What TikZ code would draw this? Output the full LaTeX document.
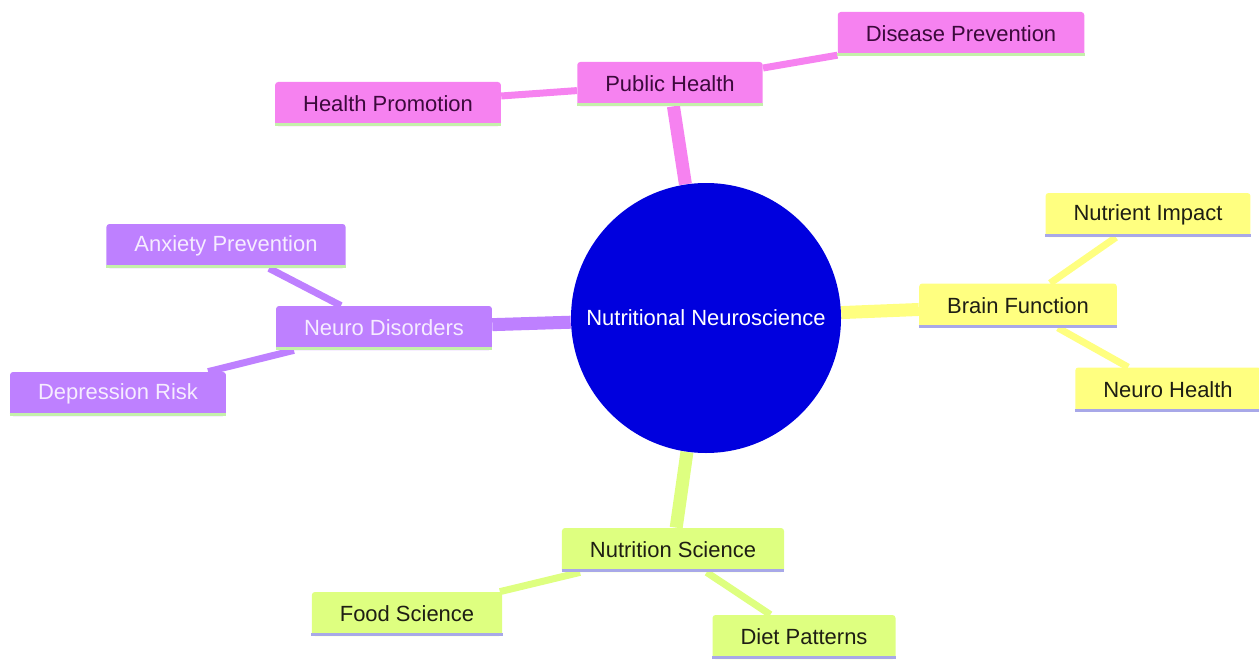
\documentclass[tikz,border=0pt]{standalone}
\usepackage{fontspec}
\setmainfont{Liberation Sans}
\usetikzlibrary{backgrounds}

\definecolor{rootblue}{RGB}{0,0,222}
\definecolor{pinkfill}{RGB}{246,130,240}
\definecolor{yellowfill}{RGB}{255,255,128}
\definecolor{purplefill}{RGB}{190,128,255}
\definecolor{greenfill}{RGB}{222,255,128}
\definecolor{pinktext}{RGB}{60,10,60}
\definecolor{purpletext}{RGB}{246,236,255}
\definecolor{darktext}{RGB}{30,30,20}
\definecolor{linegreen}{RGB}{196,240,170}
\definecolor{linelav}{RGB}{168,168,232}

\tikzset{
  topic/.style={rounded corners=1.7pt, inner xsep=0.56cm, inner ysep=0pt, minimum height=0.88cm, font=\fontsize{12.5}{15}\selectfont},
  pubbox/.style={topic, fill=pinkfill, text=pinktext},
  brainbox/.style={topic, fill=yellowfill, text=darktext},
  neurobox/.style={topic, fill=purplefill, text=purpletext},
  nutribox/.style={topic, fill=greenfill, text=darktext},
  stem/.style={line width=0.26cm},
  twig/.style={line width=0.14cm},
  uline/.style={line width=1.7pt}
}

\begin{document}
\begin{tikzpicture}
\useasboundingbox (0,0) rectangle (25.18,13.18);

% centre
\node [circle, fill=rootblue, minimum size=5.4cm, text=white, font=\fontsize{12.5}{15}\selectfont] (root) at (14.12,6.82) {Nutritional Neuroscience};

% public health branch
\node [pubbox] (pub) at (13.40,11.50) {Public Health};
\node [pubbox] (disprev) at (19.22,12.50) {Disease Prevention};
\node [pubbox] (healthprom) at (7.76,11.10) {Health Promotion};

% brain function branch
\node [brainbox] (brain) at (20.36,7.07) {Brain Function};
\node [brainbox] (nutimp) at (22.96,8.88) {Nutrient Impact};
\node [brainbox] (neurohealth) at (23.36,5.39) {Neuro Health};

% neuro disorders branch
\node [neurobox] (neurodis) at (7.68,6.62) {Neuro Disorders};
\node [neurobox] (anxprev) at (4.52,8.26) {Anxiety Prevention};
\node [neurobox] (deprisk) at (2.36,5.30) {Depression Risk};

% nutrition science branch
\node [nutribox] (nutsci) at (13.46,2.18) {Nutrition Science};
\node [nutribox] (foodsci) at (8.14,0.90) {Food Science};
\node [nutribox] (diet) at (16.08,0.44) {Diet Patterns};

% underlines
\foreach \n/\c in {pub/linegreen, disprev/linegreen, healthprom/linegreen,
                   brain/linelav, nutimp/linelav, neurohealth/linelav,
                   neurodis/linegreen, anxprev/linegreen, deprisk/linegreen,
                   nutsci/linelav, foodsci/linelav, diet/linelav}
  \draw [uline, \c] ([yshift=0.85pt]\n.south west) -- ([yshift=0.85pt]\n.south east);

\begin{scope}[on background layer]
\draw [stem, pinkfill] (root) -- (pub);
\draw [twig, pinkfill] (pub) -- (disprev);
\draw [twig, pinkfill] (pub) -- (healthprom);
\draw [stem, yellowfill] (root) -- (brain);
\draw [twig, yellowfill] (brain) -- (nutimp);
\draw [twig, yellowfill] (brain) -- (neurohealth);
\draw [stem, purplefill] (root) -- (neurodis);
\draw [twig, purplefill] (neurodis) -- (anxprev);
\draw [twig, purplefill] (neurodis) -- (deprisk);
\draw [stem, greenfill] (root) -- (nutsci);
\draw [twig, greenfill] (nutsci) -- (foodsci);
\draw [twig, greenfill] (nutsci) -- (diet);
\end{scope}
\end{tikzpicture}
\end{document}
